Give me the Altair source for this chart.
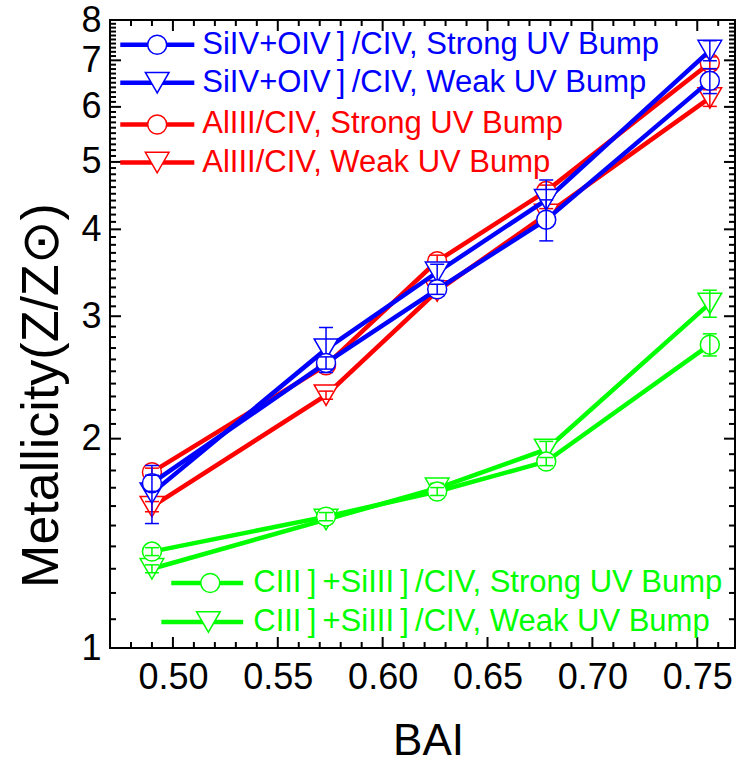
import altair as alt
import pandas as pd
import numpy as np

# ---------------- data ----------------
bai = [0.490, 0.573, 0.626, 0.678, 0.756]

siiv_strong = [1.726, 2.57, 3.28, 4.13, 6.54]
siiv_strong_err = [0.046, 0.052, 0.055, 0.28, 0.27]
siiv_weak = [1.67, 2.69, 3.47, 4.41, 7.23]
siiv_weak_err = [0.16, 0.20, 0.093, 0.30, 0.24]
aliii_strong = [1.79, 2.55, 3.60, 4.54, 6.94]
aliii_strong_err = [0.024, 0.034, 0.072, 0.091, 0.14]
aliii_weak = [1.597, 2.31, 3.26, 4.20, 6.18]
aliii_weak_err = [0.027, 0.031, 0.054, 0.084, 0.17]
ciii_strong = [1.376, 1.545, 1.679, 1.854, 2.73]
ciii_strong_err = [0.018, 0.021, 0.022, 0.025, 0.10]
ciii_weak = [1.30, 1.53, 1.697, 1.93, 3.13]
ciii_weak_err = [0.017, 0.020, 0.028, 0.052, 0.14]

series_labels = [
    "SiIV+OIV\u2009]\u2009/CIV, Strong UV Bump",
    "SiIV+OIV\u2009]\u2009/CIV, Weak UV Bump",
    "AlIII/CIV, Strong UV Bump",
    "AlIII/CIV, Weak UV Bump",
    "CIII\u2009]\u2009+SiIII\u2009]\u2009/CIV, Strong UV Bump",
    "CIII\u2009]\u2009+SiIII\u2009]\u2009/CIV, Weak UV Bump",
]
series_values = [siiv_strong, siiv_weak, aliii_strong, aliii_weak, ciii_strong, ciii_weak]
series_errors = [siiv_strong_err, siiv_weak_err, aliii_strong_err, aliii_weak_err,
                 ciii_strong_err, ciii_weak_err]
series_colors = ["#0000FF", "#0000FF", "#FF0000", "#FF0000", "#00FF00", "#00FF00"]
series_shapes = ["circle", "triangle-down", "circle", "triangle-down", "circle", "triangle-down"]

# legend placement (data units)
legend_y = [7.37, 6.50, 5.66, 4.99, 1.24, 1.09]
legend_x0 = [0.4749, 0.4749, 0.4749, 0.4749, 0.4992, 0.4945]
legend_x1 = [0.5102, 0.5102, 0.5102, 0.5102, 0.5335, 0.5335]
legend_xm = [0.4925, 0.4925, 0.4925, 0.4925, 0.5178, 0.5169]
legend_xt = [0.5140, 0.5140, 0.5140, 0.5140, 0.5383, 0.5383]

x_tick_values = [0.50, 0.55, 0.60, 0.65, 0.70, 0.75]
y_tick_values = [1, 2, 3, 4, 5, 6, 7, 8]

# ---------------- setup ----------------
W, H = 625, 628
FONT = "Liberation Sans"
xscale = alt.Scale(domain=[0.47, 0.768], nice=False, zero=False)
yscale = alt.Scale(type="log", domain=[1, 8], nice=False)

XAXIS = alt.Axis(values=x_tick_values, format=".2f", title="BAI",
                 labelFontSize=36, labelFont=FONT, labelColor="black",
                 labelPadding=12, ticks=False, domain=False, grid=False,
                 labelFlush=False, labelOverlap=False,
                 titleFontSize=44, titleFont=FONT, titleFontWeight="normal",
                 titleColor="black", titleBaseline="alphabetic",
                 titleY=106, titleX=318)
YAXIS = alt.Axis(values=y_tick_values, format="d",
                 title="Metallicity(Z/Z\u2299)",
                 labelFontSize=36, labelFont=FONT, labelColor="black",
                 labelPadding=9, ticks=False, domain=False, grid=False,
                 labelFlush=False, labelOverlap=False,
                 titleFontSize=52, titleFont=FONT, titleFontWeight="normal",
                 titleColor="black", titleBaseline="alphabetic",
                 titleAngle=270, titleAlign="center",
                 titleX=-53, titleY=375)


def X(field):
    return alt.X(field, scale=xscale, axis=XAXIS)


def Y(field):
    return alt.Y(field, scale=yscale, axis=YAXIS)


x_minor = [round(0.48 + 0.01 * i, 2) for i in range(29)]
x_minor = [v for v in x_minor if round(v * 100) % 5 != 0]
y_minor = [round(i + 0.1 * j, 1) for i in range(1, 8) for j in range(1, 10)]
y_major_inner = [2, 3, 4, 5, 6, 7]

layers = []


# inward ticks
def xticks(vals, length):
    d = pd.DataFrame({"v": vals})
    bot = alt.Chart(d).mark_rule(color="black", strokeWidth=2).encode(
        x=X("v:Q"), y=alt.value(H), y2=alt.value(H - length))
    top = alt.Chart(d).mark_rule(color="black", strokeWidth=2).encode(
        x=X("v:Q"), y=alt.value(0), y2=alt.value(length))
    return [bot, top]


def yticks(vals, length):
    d = pd.DataFrame({"v": vals})
    left = alt.Chart(d).mark_rule(color="black", strokeWidth=2).encode(
        y=Y("v:Q"), x=alt.value(0), x2=alt.value(length))
    right = alt.Chart(d).mark_rule(color="black", strokeWidth=2).encode(
        y=Y("v:Q"), x=alt.value(W), x2=alt.value(W - length))
    return [left, right]


layers += xticks(x_tick_values, 11) + xticks(x_minor, 6)
layers += yticks(y_major_inner, 11) + yticks(y_minor, 6)

# series (draw green first, blue last)
for idx in [5, 4, 3, 2, 1, 0]:
    vals = series_values[idx]
    errs = series_errors[idx]
    df = pd.DataFrame({
        "bai": bai,
        "z": vals,
        "lo": [v - e for v, e in zip(vals, errs)],
        "hi": [v + e for v, e in zip(vals, errs)],
    })
    col = series_colors[idx]
    shp = series_shapes[idx]
    size = 360 if shp == "circle" else 560
    line = alt.Chart(df).mark_line(color=col, strokeWidth=4.5).encode(
        x=X("bai:Q"), y=Y("z:Q"))
    pts = alt.Chart(df).mark_point(shape=shp, filled=True, fill="white", stroke=col,
                                   strokeWidth=1.5, size=size, opacity=1).encode(
        x=X("bai:Q"), y=Y("z:Q"))
    bar = alt.Chart(df).mark_rule(color=col, strokeWidth=1.5).encode(
        x=X("bai:Q"), y=Y("lo:Q"), y2="hi:Q")
    cap_lo = alt.Chart(df).mark_tick(color=col, orient="horizontal", size=14,
                                     thickness=1.5, opacity=1).encode(
        x=X("bai:Q"), y=Y("lo:Q"))
    cap_hi = alt.Chart(df).mark_tick(color=col, orient="horizontal", size=14,
                                     thickness=1.5, opacity=1).encode(
        x=X("bai:Q"), y=Y("hi:Q"))
    layers += [line, pts, bar, cap_lo, cap_hi]

# legends
leg = pd.DataFrame({
    "label": series_labels,
    "y": legend_y,
    "x0": legend_x0,
    "x1": legend_x1,
    "xm": legend_xm,
    "xt": legend_xt,
    "color": series_colors,
    "shape": series_shapes,
})
layers.append(alt.Chart(leg).mark_rule(strokeWidth=4.5).encode(
    x=X("x0:Q"), x2="x1:Q", y=Y("y:Q"),
    color=alt.Color("color:N", scale=None)))
for shp, size in [("circle", 360), ("triangle-down", 560)]:
    layers.append(alt.Chart(leg[leg["shape"] == shp]).mark_point(
        shape=shp, filled=True, fill="white", strokeWidth=1.5, size=size, opacity=1).encode(
        x=X("xm:Q"), y=Y("y:Q"),
        stroke=alt.Stroke("color:N", scale=None)))
layers.append(alt.Chart(leg).mark_text(align="left", baseline="middle", fontSize=31,
                                       font=FONT).encode(
    x=X("xt:Q"), y=Y("y:Q"),
    text="label:N",
    color=alt.Color("color:N", scale=None)))

chart = alt.layer(*layers).properties(
    width=W, height=H,
    padding={"left": 110, "top": 20, "right": 1, "bottom": 118},
    autosize=alt.AutoSizeParams(type="none"),
    background="white",
).configure_view(stroke="black", strokeWidth=2)

chart.save("out.html", embed_options={"renderer": "svg", "actions": False})
